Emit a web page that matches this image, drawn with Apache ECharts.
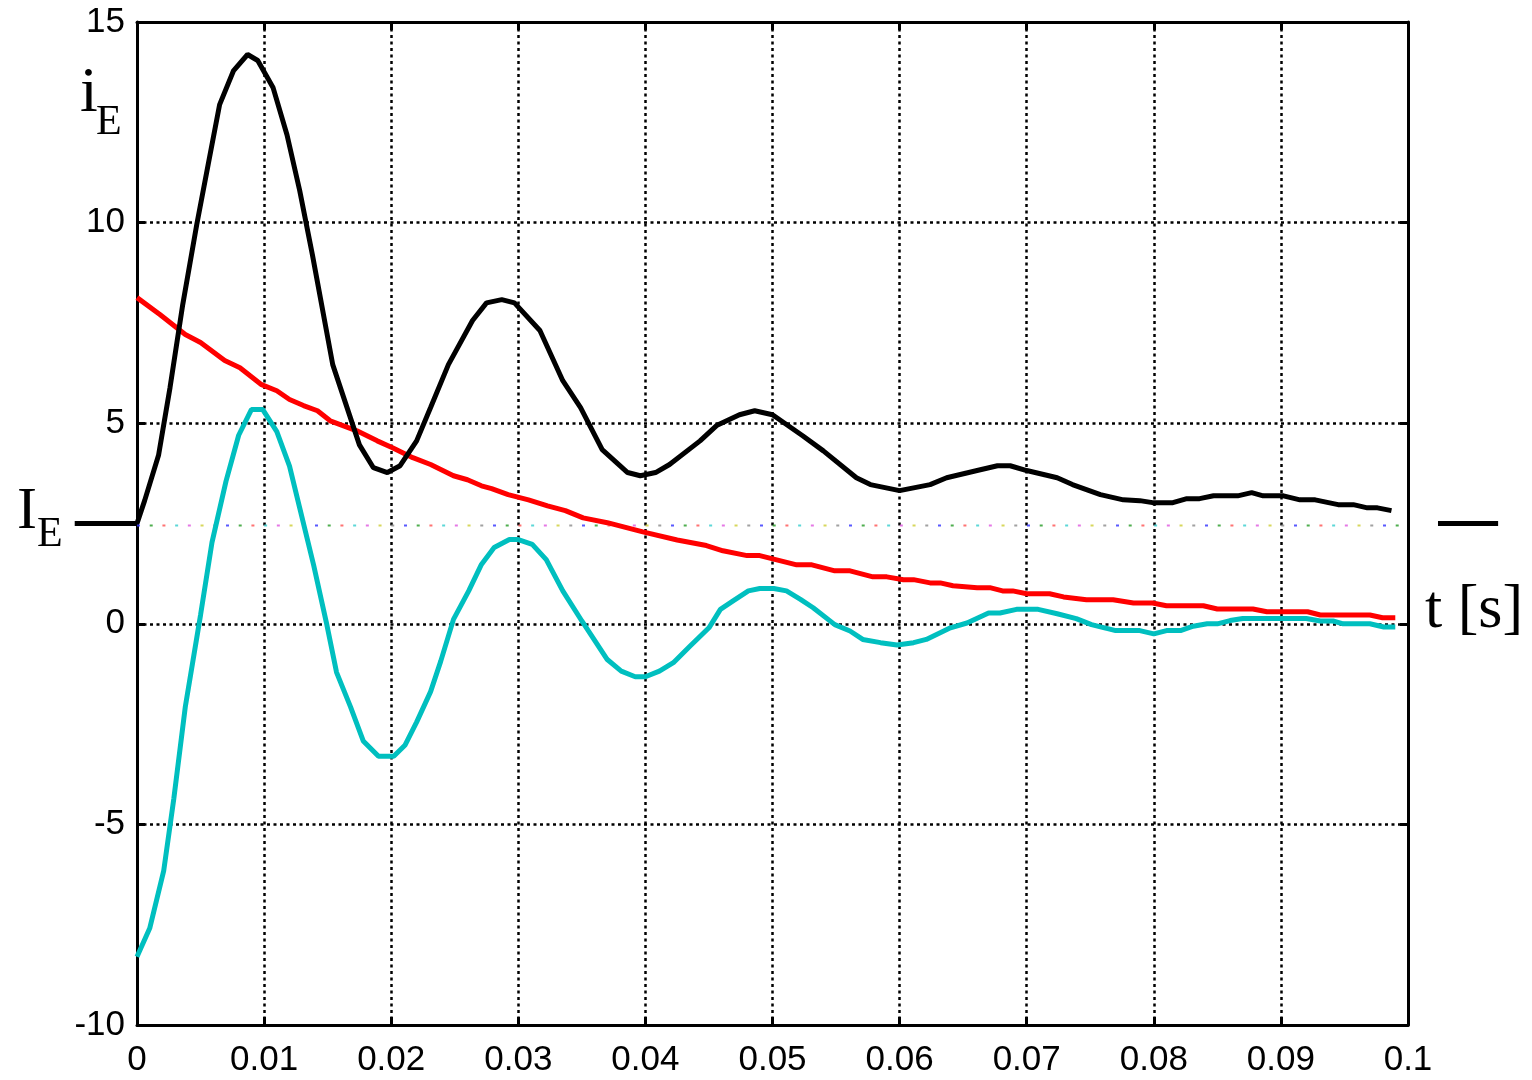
<!DOCTYPE html>
<html>
<head>
<meta charset="utf-8">
<script src="https://cdn.jsdelivr.net/npm/echarts@6/dist/echarts.min.js"></script>
<style>
  html, body { margin: 0; padding: 0; background: #fff; }
  #chart { width: 1532px; height: 1080px; }
</style>
</head>
<body>
<div id="chart"></div>
<script>
// time axis ticks and labels
const xTicks = ['0', '0.01', '0.02', '0.03', '0.04', '0.05', '0.06', '0.07', '0.08', '0.09', '0.1'];
const yTicks = ['-10', '-5', '0', '5', '10', '15'];

// black: total current i_E
const tTotal = [0, 0.0006, 0.0017, 0.0026, 0.0036, 0.0047, 0.0056, 0.0065, 0.0076, 0.0087, 0.0095,
  0.0107, 0.0118, 0.0128, 0.0138, 0.0154, 0.0175, 0.0186, 0.0197, 0.0207, 0.0220, 0.0231,
  0.0245, 0.0264, 0.0275, 0.0287, 0.0297, 0.0317, 0.0335, 0.0349, 0.0366, 0.0386, 0.0396,
  0.0408, 0.0419, 0.0443, 0.0456, 0.0474, 0.0486, 0.0500, 0.0524, 0.0540, 0.0566, 0.0577,
  0.0600, 0.0624, 0.0637, 0.0661, 0.0677, 0.0687, 0.0700, 0.0724, 0.0736, 0.0758, 0.0776,
  0.0789, 0.0799, 0.0815, 0.0826, 0.0836, 0.0847, 0.0866, 0.0877, 0.0886, 0.0902, 0.0915,
  0.0927, 0.0945, 0.0957, 0.0968, 0.0976, 0.0987];
const iTotal = [2.5, 3.07, 4.21, 5.89, 7.96, 9.95, 11.45, 12.94, 13.79, 14.19, 14.04,
  13.37, 12.19, 10.80, 9.20, 6.46, 4.46, 3.89, 3.77, 3.94, 4.56, 5.39,
  6.46, 7.56, 8.00, 8.08, 8.00, 7.31, 6.06, 5.39, 4.34, 3.77, 3.69,
  3.77, 3.97, 4.56, 4.94, 5.21, 5.31, 5.21, 4.68, 4.31, 3.64, 3.47,
  3.32, 3.47, 3.64, 3.82, 3.94, 3.94, 3.82, 3.64, 3.47, 3.22, 3.09,
  3.07, 3.02, 3.02, 3.12, 3.12, 3.19, 3.19, 3.27, 3.19, 3.19, 3.09,
  3.09, 2.97, 2.97, 2.89, 2.89, 2.82];

// red: decaying component
const tDc = [0, 0.0018, 0.0038, 0.0050, 0.0069, 0.0081, 0.0098, 0.0110, 0.0120, 0.0131, 0.0142,
  0.0152, 0.0173, 0.0189, 0.0201, 0.0217, 0.0231, 0.0249, 0.0260, 0.0271, 0.0279, 0.0292,
  0.0308, 0.0323, 0.0337, 0.0351, 0.0370, 0.0398, 0.0425, 0.0448, 0.0461, 0.0480, 0.0490,
  0.0519, 0.0531, 0.0549, 0.0561, 0.0579, 0.0590, 0.0603, 0.0611, 0.0624, 0.0632, 0.0642,
  0.0661, 0.0671, 0.0681, 0.0689, 0.0700, 0.0718, 0.0729, 0.0747, 0.0768, 0.0784, 0.0799,
  0.0810, 0.0839, 0.0850, 0.0878, 0.0889, 0.0921, 0.0931, 0.0970, 0.0980, 0.0990];
const iDc = [8.13, 7.71, 7.21, 7.01, 6.56, 6.38, 5.96, 5.81, 5.59, 5.44, 5.31,
  5.06, 4.81, 4.56, 4.39, 4.14, 3.97, 3.69, 3.59, 3.44, 3.37, 3.22,
  3.09, 2.94, 2.82, 2.64, 2.52, 2.29, 2.09, 1.95, 1.82, 1.70, 1.70,
  1.47, 1.47, 1.32, 1.32, 1.17, 1.17, 1.10, 1.10, 1.02, 1.02, 0.95,
  0.90, 0.90, 0.82, 0.82, 0.75, 0.75, 0.67, 0.60, 0.60, 0.52, 0.52,
  0.45, 0.45, 0.37, 0.37, 0.30, 0.30, 0.22, 0.22, 0.15, 0.15];

// cyan: oscillating component
const tAc = [0, 0.0010, 0.0021, 0.0029, 0.0038, 0.0050, 0.0059, 0.0070, 0.0080, 0.0090, 0.0099,
  0.0110, 0.0120, 0.0128, 0.0139, 0.0149, 0.0157, 0.0168, 0.0178, 0.0190, 0.0202, 0.0211,
  0.0220, 0.0231, 0.0239, 0.0249, 0.0261, 0.0271, 0.0281, 0.0293, 0.0300, 0.0311, 0.0322,
  0.0335, 0.0350, 0.0370, 0.0381, 0.0392, 0.0400, 0.0411, 0.0422, 0.0435, 0.0450, 0.0459,
  0.0469, 0.0481, 0.0490, 0.0501, 0.0511, 0.0522, 0.0532, 0.0549, 0.0561, 0.0571, 0.0585,
  0.0598, 0.0611, 0.0621, 0.0640, 0.0653, 0.0670, 0.0679, 0.0692, 0.0709, 0.0724, 0.0739,
  0.0751, 0.0770, 0.0789, 0.0800, 0.0810, 0.0821, 0.0831, 0.0842, 0.0850, 0.0860, 0.0870,
  0.0920, 0.0931, 0.0941, 0.0949, 0.0970, 0.0981, 0.0990];
const iAc = [-8.30, -7.59, -6.16, -4.35, -2.07, 0.22, 2.03, 3.55, 4.70, 5.34, 5.34,
  4.79, 3.93, 2.89, 1.46, 0.03, -1.21, -2.07, -2.92, -3.30, -3.30, -3.02,
  -2.45, -1.69, -0.93, 0.11, 0.82, 1.48, 1.90, 2.10, 2.10, 1.98, 1.60,
  0.82, 0.07, -0.89, -1.18, -1.32, -1.32, -1.18, -0.97, -0.56, -0.10, 0.36,
  0.57, 0.82, 0.88, 0.88, 0.82, 0.61, 0.40, -0.02, -0.18, -0.39, -0.47,
  -0.53, -0.47, -0.39, -0.10, 0.02, 0.27, 0.27, 0.36, 0.36, 0.25, 0.13,
  -0.02, -0.17, -0.17, -0.25, -0.17, -0.17, -0.06, 0, 0, 0.08, 0.13,
  0.13, 0.07, 0.07, 0, 0, -0.08, -0.08];

// I_E level marks outside the box (t0, t1, level), and the faint multicolour reference line
const ieMarks = [[-0.0049, 0, 2.5], [0.10236, 0.10709, 2.5]];
const refLine = [[0, 2.45], [0.1, 2.45]];
const refColors = ['#3c3cff', '#30a030', '#ff5a5a', '#40d0d0', '#e060e0', '#d0d040', '#909090'];

const zip = (t, v) => t.map((x, k) => [x, v[k]]);

const gridDots = { color: '#000', width: 2.5, type: [3, 3.5] };
const labelFont = { fontFamily: 'Liberation Sans, Arial, sans-serif', fontSize: 35, color: '#000' };
const serif = 'Liberation Serif, Times New Roman, serif';
const boxLine = { onZero: false, show: true, lineStyle: { color: '#000', width: 3 } };
const boxTick = { show: true, inside: true, length: 8, lineStyle: { color: '#000', width: 3 } };

const chart = echarts.init(document.getElementById('chart'));

const refSeries = refColors.map((c, k) => ({
  type: 'line',
  data: refLine,
  symbol: 'none',
  silent: true,
  z: 1,
  lineStyle: { color: c, width: 2, opacity: 0.85, type: [3, 86], dashOffset: 89 - k * 12.71 }
}));

chart.setOption({
  animation: false,
  backgroundColor: '#fff',
  grid: { left: 137, right: 124, top: 22, bottom: 55, show: false },
  xAxis: [{
    type: 'value', min: 0, max: 0.1, interval: 0.01,
    axisLine: boxLine, axisTick: boxTick,
    axisLabel: Object.assign({ margin: 18, formatter: (v) => xTicks[Math.round(v * 100)] }, labelFont),
    splitLine: { show: true, lineStyle: gridDots }
  }, {
    type: 'value', min: 0, max: 0.1, interval: 0.01, position: 'top',
    axisLine: boxLine, axisTick: boxTick,
    axisLabel: { show: false }, splitLine: { show: false }
  }],
  yAxis: [{
    type: 'value', min: -10, max: 15, interval: 5,
    axisLine: boxLine, axisTick: boxTick,
    axisLabel: Object.assign({ margin: 12, formatter: (v) => yTicks[(v + 10) / 5] }, labelFont),
    splitLine: { show: true, lineStyle: gridDots }
  }, {
    type: 'value', min: -10, max: 15, interval: 5, position: 'right',
    axisLine: boxLine, axisTick: boxTick,
    axisLabel: { show: false }, splitLine: { show: false }
  }],
  series: refSeries.concat([
    { type: 'line', data: zip(tDc, iDc), symbol: 'none', z: 3,
      lineStyle: { color: '#ff0000', width: 5 } },
    { type: 'line', data: zip(tTotal, iTotal), symbol: 'none', z: 4,
      lineStyle: { color: '#000', width: 5 } },
    { type: 'line', data: zip(tAc, iAc), symbol: 'none', z: 5,
      lineStyle: { color: '#00bfbf', width: 5 } },
    {
      type: 'custom', data: ieMarks, clip: false, z: 4, silent: true,
      renderItem: (params, api) => {
        const a = api.coord([api.value(0), api.value(2)]);
        const b = api.coord([api.value(1), api.value(2)]);
        return { type: 'line', shape: { x1: a[0], y1: a[1], x2: b[0], y2: b[1] },
          style: { stroke: '#000', lineWidth: 5 } };
      }
    }
  ]),
  graphic: [
    { type: 'text', left: 80, top: 62, style: { text: 'i', font: '64px ' + serif, fill: '#000' } },
    { type: 'text', left: 96, top: 102, style: { text: 'E', font: '42px ' + serif, fill: '#000' } },
    { type: 'text', left: 17, top: 482, style: { text: 'I', font: '60px ' + serif, fill: '#000' } },
    { type: 'text', left: 37, top: 514, style: { text: 'E', font: '42px ' + serif, fill: '#000' } },
    { type: 'text', left: 1425, top: 580, style: { text: 't [s]', font: '62px ' + serif, fill: '#000' } }
  ]
});
</script>
</body>
</html>
